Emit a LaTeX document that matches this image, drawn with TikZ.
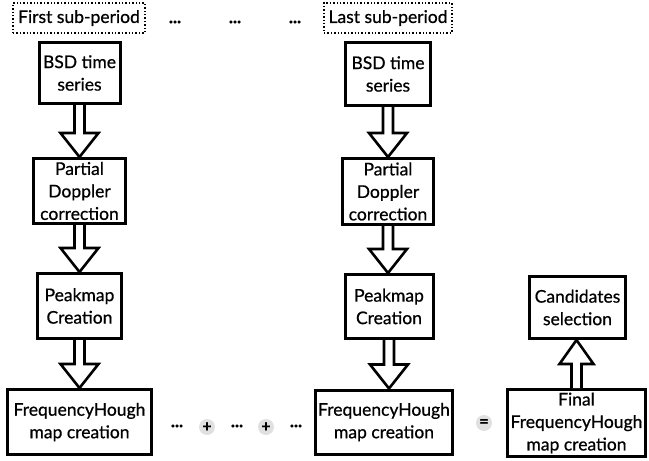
\documentclass[tikz,border=0pt]{standalone}
\usepackage{fontspec}
\setmainfont{Lato}[FakeBold=0.7]
\usetikzlibrary{calc}
\tikzset{
  box/.style={draw, line width=3pt, align=center, inner sep=0pt, font=\fontsize{17.5}{22.5}\selectfont},
  dotbox/.style={draw, dotted, line width=1.4pt, align=center, inner sep=0pt, font=\fontsize{17.5}{22}\selectfont},
  barrow/.style={draw, line width=2.6pt, line join=miter, fill=white},
  op/.style={circle, fill=black!12, inner sep=0pt, minimum size=16pt, font=\fontsize{16}{16}\selectfont\bfseries},
  dots/.style={inner sep=0pt, font=\fontsize{17}{17}\selectfont\bfseries}
}
\newcommand\boxat[5]{\node[box, minimum width=#3pt, minimum height=#4pt] (#1) at (#2) {#5};}
\newcommand\blkdown[2]{%
  \draw[barrow] let \p1=(#1.south), \p2=(#2.north) in
    (\x1-5pt,\y1) -- (\x1-5pt,\y2+24pt) -- (\x1-19pt,\y2+24pt) -- (\x1,\y2)
    -- (\x1+19pt,\y2+24pt) -- (\x1+5pt,\y2+24pt) -- (\x1+5pt,\y1);}
\newcommand\blkup[2]{%
  \draw[barrow] let \p1=(#1.north), \p2=(#2.south) in
    (\x1-5pt,\y1) -- (\x1-5pt,\y2-24pt) -- (\x1-17pt,\y2-24pt) -- (\x1,\y2)
    -- (\x1+17pt,\y2-24pt) -- (\x1+5pt,\y2-24pt) -- (\x1+5pt,\y1);}
\begin{document}
\begin{tikzpicture}[x=1pt,y=-1pt]
\useasboundingbox (0,0) rectangle (649,461);
% top labels
\node[dotbox, minimum width=132pt, minimum height=30pt] (first) at (79,18) {First sub-period};
\node[dotbox, minimum width=128pt, minimum height=30pt] (last) at (388,18) {Last sub-period};
\node[dots] (t1) at (175,22) {...};
\node[dots] (t2) at (235,22) {...};
\node[dots] (t3) at (295,22) {...};
% left column
\boxat{bsdL}{79.5,73}{81}{61}{BSD time\\series}
\boxat{pdL}{79.5,191}{92}{65}{Partial\\Doppler\\correction}
\boxat{pmL}{79.5,306}{84}{65}{Peakmap\\Creation}
\boxat{fhL}{79.5,422}{144}{65}{FrequencyHough\\map creation}
% right column
\boxat{bsdR}{388,74}{85}{63}{BSD time\\series}
\boxat{pdR}{388,191.5}{91}{66}{Partial\\Doppler\\correction}
\boxat{pmR}{389,306.5}{88}{64}{Peakmap\\Creation}
\boxat{fhR}{384,422}{137}{64}{FrequencyHough\\map creation}
% final
\boxat{cand}{577.5,307.5}{96}{62}{Candidates\\selection}
\boxat{final}{576.5,423}{138}{67}{Final\\FrequencyHough\\map creation}
% arrows
\blkdown{bsdL}{pdL}
\blkdown{pdL}{pmL}
\blkdown{pmL}{fhL}
\blkdown{bsdR}{pdR}
\blkdown{pdR}{pmR}
\blkdown{pmR}{fhR}
\blkup{final}{cand}
% bottom sum
\node[dots] (b1) at (177,426) {...};
\node[op] (p1) at (207,427) {+};
\node[dots] (b2) at (237,426) {...};
\node[op] (p2) at (266,427) {+};
\node[dots] (b3) at (296,426) {...};
\node[op] (eq) at (484,423) {=};
\end{tikzpicture}
\end{document}
